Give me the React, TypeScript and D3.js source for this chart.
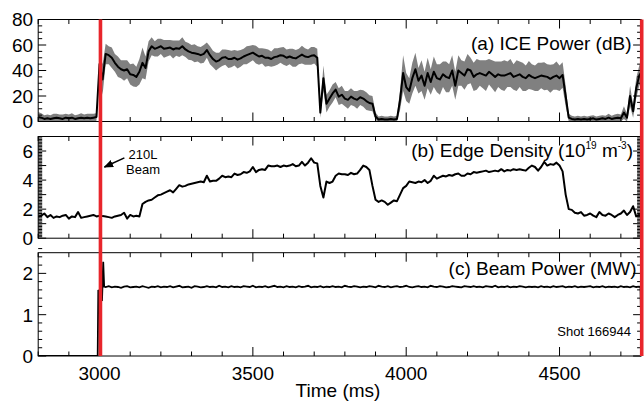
import React, { useEffect, useRef } from "react";
import * as d3 from "d3";

// time axis, ms
const timeStart = 2800;
const timeEnd = 4766;
const timeLabels = [3000, 3500, 4000, 4500];
const beamOn = 3003;
const beamOff = 4768;

// panels (a) and (b) sampled every 10 ms, 2800..4770
const sampleTimes = d3.range(2800, 4771, 10);

// (a) ICE power, dB (mean)
const icePower = [
  3.5, 3, 2, 2.5, 2, 2.5, 3, 2.5, 2, 3,
  2.5, 3, 2, 2.5, 3, 2.5, 3, 2.5, 3, 3.5,
  45, 33, 53, 52, 50, 46, 43, 41, 40, 41,
  37, 36.5, 35, 39, 46, 42, 55, 59, 57, 58,
  59, 57, 57.5, 58, 56.5, 57.5, 57, 59, 56.5, 55,
  54, 53.5, 53, 52, 53, 56, 52, 49, 47, 48,
  50, 50.5, 49, 49, 50, 48.5, 49.5, 51, 52, 53,
  54, 52.5, 51, 51.5, 50, 50, 49, 50.5, 51, 52,
  51.5, 50, 51, 50, 49.5, 51, 52.5, 51, 50.5, 51.5,
  52, 50, 7, 34, 14, 18, 22, 25, 19.5, 21,
  18, 17, 19.5, 18, 17, 19, 18, 16, 14.5, 14,
  4, 1.5, 2, 1.5, 1.5, 2, 1.5, 2, 17, 38,
  27, 24, 34, 41, 32, 36, 28, 38, 31, 39,
  34, 33, 37, 35, 34, 40, 28, 40, 38, 36,
  41, 40, 35, 37, 38, 37, 36, 39, 37, 35,
  37, 36, 36, 37, 38, 35, 36, 37, 35, 34,
  36.5, 35, 34, 35, 36, 35.5, 35, 33.5, 35, 36,
  34, 36.5, 20, 3, 2, 1.5, 2, 1.5, 2, 1.5,
  2, 2.5, 1.5, 2, 2.5, 2, 3, 2, 2.5, 3,
  2.5, 7, 3, 20, 8, 26, 36, 40,
];

// (a) half width of the grey band
const iceSpread = [
  4, 3.5, 3, 3, 3, 3.5, 3, 3, 3.5, 3,
  3, 3.5, 3, 3, 3.5, 3, 3, 3.5, 3, 3,
  8, 12, 8, 7, 8, 7, 8, 7, 8, 7,
  8, 9, 8, 10, 12, 9, 8, 7, 6, 7,
  6, 7, 6.5, 6, 7, 6, 6.5, 7, 6, 6.5,
  6, 7, 6, 6.5, 7, 6, 7, 6.5, 7, 6,
  6.5, 6, 7, 6.5, 6, 7, 6.5, 6, 7, 6.5,
  6, 7, 6.5, 6, 7, 6.5, 6, 7, 6.5, 6,
  7, 6.5, 6, 7, 6.5, 6, 7, 6.5, 6, 7,
  6.5, 7, 4, 10, 7, 6.5, 7, 6, 6.5, 7,
  6, 7, 6.5, 6, 7, 6, 6.5, 7, 6, 6,
  3, 2.5, 2.5, 2.5, 2.5, 2.5, 2.5, 2.5, 8, 14,
  11, 10, 12, 13, 10, 12, 11, 12, 10, 12,
  11, 12, 10, 12, 11, 12, 11, 12, 10, 11,
  12, 10, 11, 12, 10, 11, 12, 10, 11, 12,
  10, 11, 12, 10, 11, 10, 12, 10, 11, 10,
  11, 10, 10, 11, 10, 11, 10, 11, 10, 11,
  10, 10, 8, 3, 2.5, 2.5, 2.5, 2.5, 2.5, 2.5,
  2.5, 2.5, 2.5, 2.5, 2.5, 2.5, 3, 2.5, 3, 3,
  3, 5, 3, 8, 5, 8, 8, 8,
];

// (b) edge density, 1e19 m^-3
const edgeDensity = [
  1.5, 1.55, 1.7, 1.45, 1.6, 1.4, 1.5, 1.45, 1.55, 1.6,
  1.35, 1.5, 1.45, 1.8, 1.4, 1.45, 1.5, 1.55, 1.6, 1.5,
  1.55, 1.52, 1.5, 1.45, 1.4, 1.5, 1.55, 1.6, 1.75, 1.35,
  1.6, 1.5, 1.55, 1.5, 2.35, 2.5, 2.6, 2.65, 2.8, 2.95,
  3.0, 3.1, 3.2, 3.3, 3.15, 3.4, 3.65, 3.55, 3.6, 3.7,
  3.75, 3.8, 3.85, 3.9, 3.85, 4.3, 3.9, 3.95, 3.95, 4.1,
  4.3, 4.2, 4.25, 4.2, 4.45, 4.35, 4.4, 4.55, 4.5, 4.6,
  4.9, 4.55, 4.7, 4.75, 4.7, 5.0, 4.95, 4.95, 5.0, 4.9,
  5.0, 4.95, 5.0, 5.1, 4.95, 5.0, 5.25, 5.0, 5.2, 5.5,
  5.2, 5.15, 3.6, 2.8, 3.9, 3.8, 3.9, 4.3, 4.45, 4.4,
  4.4, 4.35, 4.5, 4.4, 4.45, 4.7, 5.0, 4.9, 4.7, 3.6,
  2.65, 2.5, 2.6, 2.5, 2.3, 2.45, 2.6, 2.55, 3.0, 3.45,
  3.6, 3.9, 3.85, 3.8, 3.9, 3.85, 4.0, 3.8, 3.95, 4.3,
  4.1, 4.2, 4.3, 4.25, 4.35, 4.3, 4.4, 4.45, 4.3, 4.3,
  4.45, 4.4, 4.55, 4.5, 4.55, 4.6, 4.65, 4.55, 4.6, 4.65,
  4.6, 4.75, 4.6, 4.7, 4.65, 4.75, 4.7, 4.75, 4.7, 4.65,
  4.85, 5.0, 4.9, 4.65, 4.9, 5.25, 5.0, 5.1, 5.05, 5.2,
  5.0, 4.6, 3.0, 2.0, 1.95, 1.75, 1.7, 1.8, 1.55, 1.6,
  1.7, 1.55, 1.45, 1.8, 1.6, 1.55, 1.7, 1.6, 1.45, 1.6,
  1.7, 1.9, 1.6, 1.8, 2.2, 1.5, 1.6, 1.45,
];

// (c) beam power, MW
const beamTimes = [2800, 2994, 2996, 3004, 3008, 3012, 3015, ...d3.range(3020, 4761, 10), 4764, 4767, 4770];
const beamPower = [
  0, 0, 1.6, 1.45, 1.33, 2.28, 1.68,
  1.67, 1.69, 1.66, 1.68, 1.67, 1.65, 1.68, 1.69, 1.66, 1.67,
  1.68, 1.66, 1.69, 1.67, 1.65, 1.68, 1.67, 1.69, 1.66, 1.68,
  1.67, 1.69, 1.66, 1.68, 1.7, 1.66, 1.67, 1.68, 1.65, 1.69,
  1.68, 1.66, 1.67, 1.69, 1.67, 1.68, 1.66, 1.7, 1.67, 1.68,
  1.66, 1.69, 1.67, 1.68, 1.66, 1.69, 1.68, 1.67, 1.7, 1.66,
  1.68, 1.67, 1.69, 1.66, 1.68, 1.7, 1.67, 1.68, 1.66, 1.69,
  1.67, 1.68, 1.66, 1.69, 1.67, 1.68, 1.7, 1.66, 1.68, 1.67,
  1.69, 1.66, 1.68, 1.67, 1.69, 1.67, 1.68, 1.66, 1.7, 1.68,
  1.67, 1.69, 1.68, 1.66, 1.68, 1.67, 1.69, 1.68, 1.66, 1.7,
  1.68, 1.67, 1.69, 1.66, 1.68, 1.69, 1.67, 1.68, 1.7, 1.67,
  1.66, 1.68, 1.69, 1.67, 1.68, 1.66, 1.7, 1.68, 1.67, 1.69,
  1.68, 1.66, 1.67, 1.69, 1.68, 1.67, 1.66, 1.69, 1.68, 1.67,
  1.69, 1.67, 1.68, 1.66, 1.69, 1.68, 1.67, 1.7, 1.66, 1.68,
  1.67, 1.69, 1.66, 1.68, 1.67, 1.69, 1.68, 1.66, 1.68, 1.67,
  1.68, 1.66, 1.69, 1.67, 1.68, 1.66, 1.69, 1.67, 1.68, 1.69,
  1.66, 1.68, 1.67, 1.69, 1.66, 1.68, 1.67, 1.68, 1.69, 1.66,
  1.68, 1.67, 1.69, 1.66, 1.68, 1.67, 1.68, 1.66, 1.69, 1.67,
  1.68, 1.66, 1.69, 1.67, 1.68,
  1.66, 0.4, 1.25,
];

const FONT = "'Liberation Sans', Arial, Helvetica, sans-serif";
const RED = "#e8252b";

export default function App() {
  const ref = useRef<SVGSVGElement>(null);

  useEffect(() => {
    document.body.style.margin = "0";
    const svg = d3.select(ref.current);
    svg.selectAll("*").remove();

    const x = d3.scaleLinear().domain([timeStart, timeEnd]).range([38.2, 641.1]);
    const left = x(timeStart);
    const right = x(timeEnd);

    const panels = [
      { id: "a", top: 19.5, bottom: 121.5, max: 80, major: 20, minor: 5, labels: [0, 20, 40, 60, 80] },
      { id: "b", top: 136.5, bottom: 238.2, max: 7, major: 1, minor: 0.1, labels: [0, 2, 4, 6] },
      { id: "c", top: 252.7, bottom: 356, max: 2.5, major: 1, minor: 0.2, labels: [0, 1, 2] },
    ];
    const ys = panels.map(p => d3.scaleLinear().domain([0, p.max]).range([p.bottom, p.top]));

    const defs = svg.append("defs");
    panels.forEach(p => {
      defs
        .append("clipPath")
        .attr("id", "clip-" + p.id)
        .append("rect")
        .attr("x", left)
        .attr("y", p.top)
        .attr("width", right - left)
        .attr("height", p.bottom - p.top);
    });
    defs
      .append("marker")
      .attr("id", "arrow")
      .attr("viewBox", "0 0 10 10")
      .attr("refX", 9)
      .attr("refY", 5)
      .attr("markerWidth", 6)
      .attr("markerHeight", 6)
      .attr("orient", "auto")
      .append("path")
      .attr("d", "M0,1 L10,5 L0,9 Z")
      .attr("fill", "#000");

    // data
    const iceData = sampleTimes.map((t, i) => ({ t, m: icePower[i], s: iceSpread[i] })).filter(d => d.m != null);
    const densData = sampleTimes.map((t, i) => ({ t, v: edgeDensity[i] })).filter(d => d.v != null);
    const beamData = beamTimes.map((t, i) => ({ t, v: beamPower[i] })).filter(d => d.v != null);

    const ga = svg.append("g").attr("clip-path", "url(#clip-a)");
    ga.append("path")
      .datum(iceData)
      .attr("fill", "#808080")
      .attr(
        "d",
        d3
          .area<any>()
          .x(d => x(d.t))
          .y0(d => ys[0](Math.max(0, d.m - d.s)))
          .y1(d => ys[0](d.m + d.s))
      );
    ga.append("path")
      .datum(iceData)
      .attr("fill", "none")
      .attr("stroke", "#000")
      .attr("stroke-width", 2)
      .attr("stroke-linejoin", "round")
      .attr("d", d3.line<any>().x(d => x(d.t)).y(d => ys[0](d.m)));

    svg.append("g")
      .attr("clip-path", "url(#clip-b)")
      .append("path")
      .datum(densData)
      .attr("fill", "none")
      .attr("stroke", "#000")
      .attr("stroke-width", 2)
      .attr("stroke-linejoin", "round")
      .attr("d", d3.line<any>().x(d => x(d.t)).y(d => ys[1](d.v)));

    svg.append("g")
      .attr("clip-path", "url(#clip-c)")
      .append("path")
      .datum(beamData)
      .attr("fill", "none")
      .attr("stroke", "#000")
      .attr("stroke-width", 1.8)
      .attr("d", d3.line<any>().x(d => x(d.t)).y(d => ys[2](d.v)));

    // frames and ticks
    const xTicks = d3.range(timeStart, timeEnd + 1, 100);
    panels.forEach((p, i) => {
      const y = ys[i];
      const g = svg.append("g").attr("stroke", "#000").attr("stroke-width", 1);
      g.append("rect")
        .attr("x", left)
        .attr("y", p.top)
        .attr("width", right - left)
        .attr("height", p.bottom - p.top)
        .attr("fill", "none");
      xTicks.forEach(t => {
        const len = t % 500 === 0 ? 9 : 4.5;
        g.append("line").attr("x1", x(t)).attr("x2", x(t)).attr("y1", p.bottom).attr("y2", p.bottom - len);
        g.append("line").attr("x1", x(t)).attr("x2", x(t)).attr("y1", p.top).attr("y2", p.top + len);
      });
      const nMinor = Math.round(p.max / p.minor);
      d3.range(0, nMinor + 1).forEach(k => {
        const v = k * p.minor;
        const isMajor = Math.abs(v / p.major - Math.round(v / p.major)) < 1e-6;
        const len = isMajor ? 8 : 4;
        g.append("line").attr("x1", left).attr("x2", left + len).attr("y1", y(v)).attr("y2", y(v));
        g.append("line").attr("x1", right).attr("x2", right - len).attr("y1", y(v)).attr("y2", y(v));
      });
      svg.append("g")
        .selectAll("text")
        .data(p.labels)
        .enter()
        .append("text")
        .attr("x", left - 5)
        .attr("y", d => y(d))
        .attr("dy", "0.36em")
        .attr("text-anchor", "end")
        .style("font-family", FONT)
        .style("font-size", "19px")
        .text(d => d);
    });

    // x labels
    svg.append("g")
      .selectAll("text")
      .data(timeLabels)
      .enter()
      .append("text")
      .attr("x", d => x(d))
      .attr("y", 380)
      .attr("text-anchor", "middle")
      .style("font-family", FONT)
      .style("font-size", "19px")
      .text(d => d);
    svg.append("text")
      .attr("x", 338)
      .attr("y", 397)
      .attr("text-anchor", "middle")
      .style("font-family", FONT)
      .style("font-size", "19px")
      .text("Time (ms)");

    // panel titles
    const title = (tx: number, ty: number) =>
      svg.append("text")
        .attr("x", tx)
        .attr("y", ty)
        .attr("text-anchor", "end")
        .style("font-family", FONT)
        .style("font-size", "19px");
    title(631.5, 50).text("(a) ICE Power (dB)");
    const tb = title(633, 157);
    tb.append("tspan").text("(b) Edge Density (10");
    tb.append("tspan").attr("dy", -8).style("font-size", "10px").text("19");
    tb.append("tspan").attr("dy", 8).text(" m");
    tb.append("tspan").attr("dy", -8).style("font-size", "10px").text("-3");
    tb.append("tspan").attr("dy", 8).text(")");
    title(636.5, 275).text("(c) Beam Power (MW)");

    svg.append("text")
      .attr("x", x(4733))
      .attr("y", ys[2](0.48))
      .attr("text-anchor", "end")
      .style("font-family", FONT)
      .style("font-size", "13px")
      .text("Shot 166944");

    // beam annotation
    svg.append("line")
      .attr("x1", x(3081))
      .attr("y1", ys[1](5.53))
      .attr("x2", x(3016))
      .attr("y2", ys[1](4.9))
      .attr("stroke", "#000")
      .attr("stroke-width", 1.6)
      .attr("marker-end", "url(#arrow)");
    svg.append("text")
      .attr("x", x(3142))
      .attr("y", ys[1](5.44))
      .attr("text-anchor", "middle")
      .style("font-family", FONT)
      .style("font-size", "13px")
      .text("210L");
    svg.append("text")
      .attr("x", x(3142))
      .attr("y", ys[1](4.45))
      .attr("text-anchor", "middle")
      .style("font-family", FONT)
      .style("font-size", "13px")
      .text("Beam");

    // beam on / off markers
    [beamOn, beamOff].forEach(t => {
      svg.append("rect")
        .attr("x", x(t) - 1.8)
        .attr("y", panels[0].top)
        .attr("width", 3.6)
        .attr("height", panels[2].bottom - panels[0].top)
        .attr("fill", RED);
    });
  }, []);

  return <svg ref={ref} width={644} height={403} style={{ display: "block", background: "#fff" }} />;
}
